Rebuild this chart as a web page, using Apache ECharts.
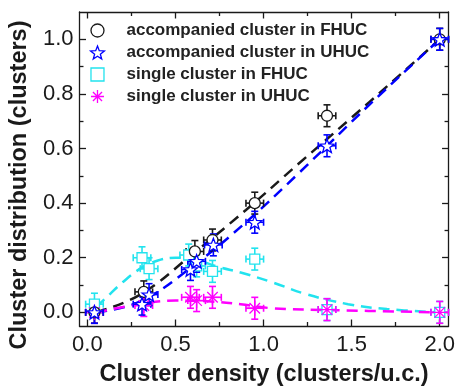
<!DOCTYPE html>
<html>
<head>
<meta charset="utf-8">
<script src="https://cdn.jsdelivr.net/npm/echarts@6/dist/echarts.min.js"></script>
<style>
html, body { margin: 0; padding: 0; background: #fff; }
#main { width: 458px; height: 392px; }
</style>
</head>
<body>
<div id="main"></div>
<script>
// measured points
const acc_fhuc_x = [0.04, 0.32, 0.61, 0.71, 0.95, 1.36, 2.0]
const acc_fhuc_y = [0.00, 0.075, 0.223, 0.265, 0.40, 0.72, 1.00]

const acc_uhuc_x = [0.04, 0.31, 0.35, 0.585, 0.62, 0.715, 0.95, 1.36, 2.0]
const acc_uhuc_y = [0.00, 0.03, 0.065, 0.157, 0.187, 0.247, 0.33, 0.61, 1.00]

const single_fhuc_x = [0.04, 0.31, 0.35, 0.575, 0.62, 0.71, 0.95, 1.36, 2.0]
const single_fhuc_y = [0.03, 0.20, 0.16, 0.21, 0.17, 0.15, 0.195, 0.01, 0.00]

const single_uhuc_x = [0.04, 0.32, 0.585, 0.62, 0.71, 0.95, 1.36, 2.0]
const single_uhuc_y = [0.00, 0.025, 0.055, 0.043, 0.055, 0.015, 0.01, 0.00]

// dashed guide curves
const black_fit_x = [0.05, 0.3, 0.6, 0.9, 1.2, 1.6, 2.0]
const black_fit_y = [0.0, 0.065, 0.215, 0.375, 0.545, 0.77, 1.0]
const blue_fit_x = [0.05, 0.3, 0.6, 0.9, 1.2, 1.6, 2.0]
const blue_fit_y = [0.0, 0.04, 0.17, 0.33, 0.51, 0.76, 1.0]
const cyan_fit_x = [0.05, 0.1, 0.2, 0.3, 0.4, 0.5, 0.6, 0.75, 0.875, 1.05, 1.24, 1.48, 1.7, 2.0]
const cyan_fit_y = [0.02, 0.05, 0.11, 0.16, 0.19, 0.2, 0.195, 0.165, 0.145, 0.11, 0.067, 0.03, 0.012, 0.0]
const magenta_fit_x = [0.05, 0.3, 0.5, 0.7, 0.87, 1.05, 1.4, 2.0]
const magenta_fit_y = [0.0, 0.03, 0.043, 0.04, 0.03, 0.015, 0.008, 0.0]

const x_err = 0.05
const y_err = 0.04

const x_major = [0, 0.5, 1.0, 1.5, 2.0]
const x_minor = [0.25, 0.75, 1.25, 1.75]
const y_major = [0, 0.2, 0.4, 0.6, 0.8, 1.0]
const y_minor = [0.1, 0.3, 0.5, 0.7, 0.9]

const names = ['accompanied cluster in FHUC', 'accompanied cluster in UHUC',
    'single cluster in FHUC', 'single cluster in UHUC']

const BLACK = '#1a1a1a', BLUE = '#0000ff', CYAN = '#22e3ee', MAGENTA = '#ff00ff'
const FONT = 'Liberation Sans'

// 5 pointed star outline
const star_path = 'path://' + Array.from({length: 10}, (_, i) => {
    const a = -Math.PI / 2 + i * Math.PI / 5
    const r = i % 2 ? 0.42 : 1
    return (i ? 'L' : 'M') + (r * Math.cos(a)).toFixed(3) + ',' + (r * Math.sin(a)).toFixed(3)
}).join('') + 'Z'
const square_path = 'path://M-1,-1L1,-1L1,1L-1,1Z'
const aster_path = 'path://M0,-1L0,1M-1,0L1,0M-0.7,-0.7L0.7,0.7M-0.7,0.7L0.7,-0.7'

const pairs = (xs, ys) => xs.map((x, i) => [x, ys[i]])

const markers = [
    {symbol: 'circle', size: 11, color: BLACK, fill: '#fff'},
    {symbol: star_path, size: 14, color: BLUE, fill: '#fff'},
    {symbol: square_path, size: 10, color: CYAN, fill: '#fff'},
    {symbol: aster_path, size: 15, color: MAGENTA, fill: 'rgba(0,0,0,0)'},
]

const scatter = (i, xs, ys) => ({
    type: 'scatter', name: names[i], data: pairs(xs, ys),
    symbol: markers[i].symbol, symbolSize: markers[i].size, symbolKeepAspect: true,
    itemStyle: {color: markers[i].fill, borderColor: markers[i].color, borderWidth: 1.3, opacity: 1},
    z: 5, silent: true
})

const error_bars = (xs, ys, color) => ({
    type: 'custom', data: pairs(xs, ys), z: 4, silent: true,
    renderItem: (params, api) => {
        const x = api.value(0), y = api.value(1)
        const c = api.coord([x, y])
        const l = api.coord([x - x_err, y])[0], r = api.coord([x + x_err, y])[0]
        const t = api.coord([x, y + y_err])[1], b = api.coord([x, y - y_err])[1]
        const cap = 3.5
        const style = {stroke: color, lineWidth: 1.6, fill: null}
        const seg = (x1, y1, x2, y2) => ({type: 'line', shape: {x1, y1, x2, y2}, style})
        return {type: 'group', children: [
            seg(l, c[1], r, c[1]), seg(c[0], t, c[0], b),
            seg(l, c[1] - cap, l, c[1] + cap), seg(r, c[1] - cap, r, c[1] + cap),
            seg(c[0] - cap, t, c[0] + cap, t), seg(c[0] - cap, b, c[0] + cap, b),
        ]}
    }
})

const fit = (xs, ys, color) => ({
    type: 'line', data: pairs(xs, ys), smooth: 0.4, symbol: 'none', z: 2, silent: true,
    lineStyle: {color: color, width: 2.5, type: [11, 7]}
})

const axis_line = {show: true, onZero: false, lineStyle: {color: BLACK, width: 1.3}}
const hidden_line = {show: true, onZero: false, lineStyle: {color: 'rgba(0,0,0,0)', width: 1}}
const tick_style = {color: BLACK, width: 1.3}

// one axis for major ticks, one overlaid for the short minor ticks, on every side
const make_axes = (kind, min, max, major, minor, name, label_opt, name_opt) => {
    const base = {type: 'value', min, max, offset: 0, splitLine: {show: false}}
    const sides = kind === 'x' ? ['bottom', 'top'] : ['left', 'right']
    const minor_axis = (side) => ({...base, position: side, axisLine: hidden_line,
        axisTick: {show: true, inside: true, length: 4, customValues: minor, lineStyle: tick_style},
        axisLabel: {show: false, customValues: minor}})
    return [
        {...base, position: sides[0], axisLine: axis_line,
         axisTick: {inside: true, length: 6.5, customValues: major, lineStyle: tick_style},
         axisLabel: {customValues: major, formatter: v => v.toFixed(1), color: BLACK,
             fontFamily: FONT, fontSize: 22, ...label_opt},
         name, nameLocation: 'middle', ...name_opt},
        minor_axis(sides[0]),
        {...base, position: sides[1], axisLine: axis_line,
         axisTick: {inside: true, length: 6.5, customValues: major, lineStyle: tick_style},
         axisLabel: {show: false}},
        minor_axis(sides[1]),
    ]
}

const name_font = {fontFamily: FONT, fontWeight: 'bold', fontSize: 23.5, color: BLACK}

const option = {
    animation: false,
    grid: {left: 78, right: 7, top: 12, bottom: 61},
    legend: {
        orient: 'vertical', left: 85, top: 17,
        itemWidth: 48, itemHeight: 13, itemGap: 5,
        selectedMode: false,
        textStyle: {fontFamily: FONT, fontWeight: 'bold', fontSize: 17, color: '#222'},
        data: names.map((n, i) => ({
            name: n, icon: markers[i].symbol,
            itemStyle: {color: markers[i].fill, borderColor: markers[i].color, borderWidth: 1.3}
        }))
    },
    xAxis: make_axes('x', -0.045, 2.05, x_major, x_minor, 'Cluster density (clusters/u.c.)',
        {margin: 8}, {nameGap: 37, nameTextStyle: name_font}),
    yAxis: make_axes('y', -0.05, 1.1, y_major, y_minor, 'Cluster distribution (clusters)',
        {margin: 6}, {nameGap: 41, nameTextStyle: {...name_font, padding: [0, 32, 0, 0]}}),
    series: [
        fit(black_fit_x, black_fit_y, BLACK),
        fit(blue_fit_x, blue_fit_y, BLUE),
        fit(cyan_fit_x, cyan_fit_y, CYAN),
        fit(magenta_fit_x, magenta_fit_y, MAGENTA),
        error_bars(single_fhuc_x, single_fhuc_y, CYAN),
        scatter(2, single_fhuc_x, single_fhuc_y),
        error_bars(single_uhuc_x, single_uhuc_y, MAGENTA),
        scatter(3, single_uhuc_x, single_uhuc_y),
        error_bars(acc_fhuc_x, acc_fhuc_y, BLACK),
        scatter(0, acc_fhuc_x, acc_fhuc_y),
        error_bars(acc_uhuc_x, acc_uhuc_y, BLUE),
        scatter(1, acc_uhuc_x, acc_uhuc_y),
    ]
}

var myChart = echarts.init(document.getElementById('main'))
myChart.setOption(option)
</script>
</body>
</html>
